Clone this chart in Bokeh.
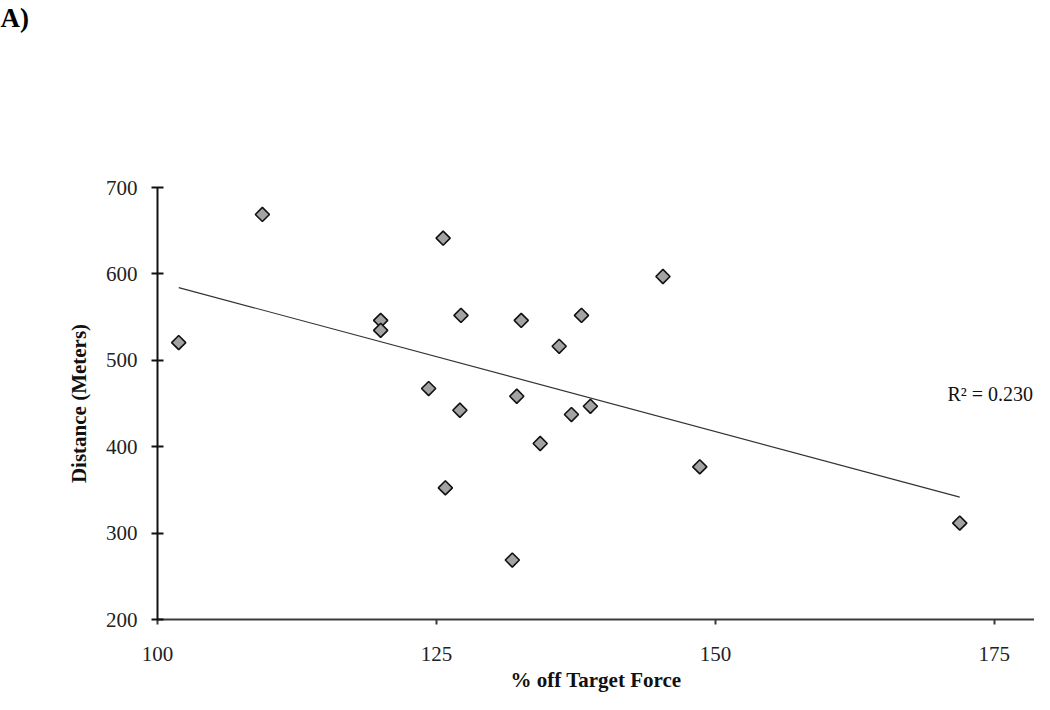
import numpy as np
from bokeh.plotting import figure
from bokeh.models import FixedTicker, Label, ColumnDataSource, Title
from bokeh.embed import file_html
from bokeh.resources import INLINE

# Data
pct_off_target = [101.9, 109.4, 120.0, 120.0, 124.3, 125.6, 125.8, 127.1, 127.2, 131.8,
                  132.2, 132.6, 134.3, 136.0, 137.1, 138.0, 138.8, 145.3, 148.6, 171.9]
distance_m = [520.5, 668.8, 546.2, 534.7, 467.3, 641.4, 352.4, 442.2, 552.0, 268.8,
              458.4, 546.2, 403.7, 516.2, 437.2, 552.0, 446.8, 597.0, 376.7, 311.6]
x_ticks = [100, 125, 150, 175]
y_ticks = [200, 300, 400, 500, 600, 700]
r2_text = "R\u00b2 = 0.230"
panel_tag = "A)"

SERIF = "Liberation Serif"

W, H = 1034, 694
LEFT, TOP, BOTTOM = 157, 187, 75

p = figure(width=W, height=H, x_range=(100, 178.6), y_range=(200, 700),
           output_backend="svg", toolbar_location=None,
           min_border_left=LEFT, min_border_top=TOP, min_border_right=0,
           min_border_bottom=BOTTOM)
p.outline_line_color = None
p.grid.visible = False
p.background_fill_color = "white"
p.border_fill_color = "white"

# Spacer panel between the frame and the panel tag
p.add_layout(Title(text=" ", text_font_size="10px", standoff=140), "above")

# Panel tag "A)" as the (outermost) plot title, at the top-left corner
p.title.text = panel_tag
p.title.align = "left"
p.title.vertical_align = "top"
p.title.offset = -LEFT
p.title.standoff = 0
p.title.text_font = SERIF
p.title.text_font_style = "bold"
p.title.text_font_size = "27px"
p.title.text_color = "black"

# Axes
p.xaxis.ticker = FixedTicker(ticks=x_ticks)
p.yaxis.ticker = FixedTicker(ticks=y_ticks)
for ax in (p.xaxis[0], p.yaxis[0]):
    ax.axis_line_width = 2
    ax.major_tick_line_width = 2
    ax.minor_tick_line_color = None
    ax.major_label_text_font = SERIF
    ax.major_label_text_font_size = "21px"
    ax.major_label_text_color = "#222222"
    ax.axis_label_text_font = SERIF
    ax.axis_label_text_font_style = "bold"
    ax.axis_label_text_font_size = "21px"
    ax.axis_label_text_color = "#111111"

p.xaxis.axis_line_color = "#3a3a3a"
p.xaxis.major_tick_line_color = "#3a3a3a"
p.xaxis.major_tick_in = 0
p.xaxis.major_tick_out = 5
p.xaxis.major_label_standoff = 22
p.xaxis.axis_label = "% off Target Force"
p.xaxis.axis_label_standoff = 4

p.yaxis.axis_line_color = "#111111"
p.yaxis.major_tick_line_color = "#111111"
p.yaxis.major_tick_in = 6
p.yaxis.major_tick_out = 6
p.yaxis.major_label_standoff = 14
p.yaxis.axis_label = "Distance (Meters)"
p.yaxis.axis_label_standoff = 12

# Linear trend line from the data
xs = np.array(pct_off_target)
ys = np.array(distance_m)
slope, intercept = np.polyfit(xs, ys, 1)
tx = np.array([xs.min(), xs.max()])
p.line(tx, slope * tx + intercept, line_color="#333333", line_width=1.2)

src = ColumnDataSource(dict(x=pct_off_target, y=distance_m))
p.scatter("x", "y", source=src, marker="square", size=10, angle=np.pi / 4,
          fill_color="#a3a3a3", line_color="#111111", line_width=1.6)

p.add_layout(Label(x=170.8, y=460.7, text=r2_text, text_font=SERIF,
                   text_font_size="20px", text_color="#111111",
                   text_baseline="alphabetic"))

open("out.html", "w").write(file_html(p, INLINE))
